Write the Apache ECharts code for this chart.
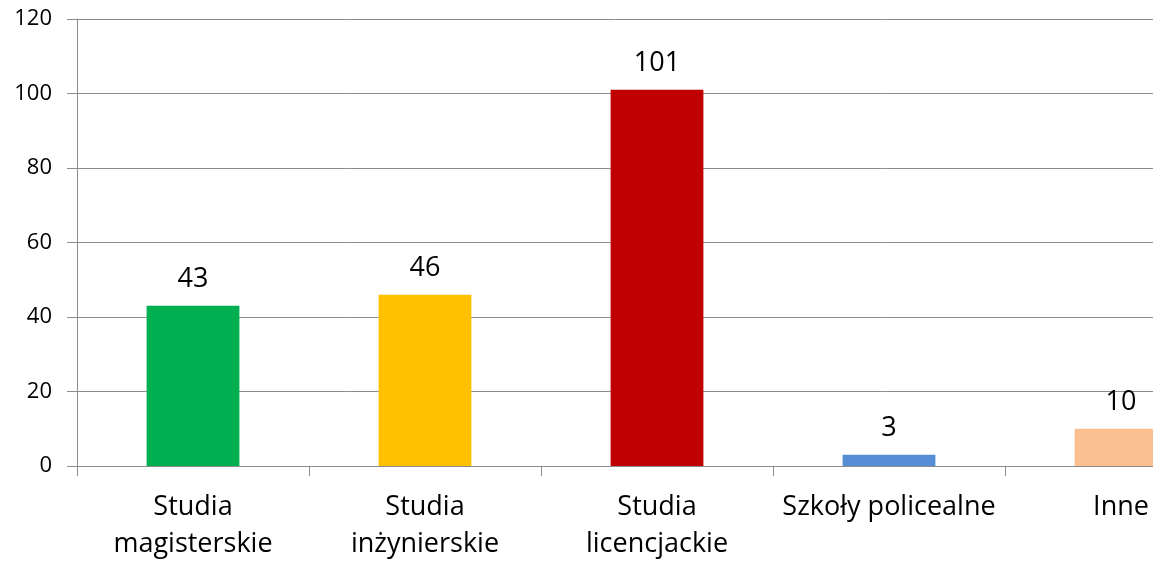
<!DOCTYPE html>
<html><head><meta charset="utf-8">
<script src="https://cdn.jsdelivr.net/npm/echarts@6/dist/echarts.min.js"></script>
<style>html,body{margin:0;padding:0;background:#fff;overflow:hidden}#c{width:1153px;height:562px}</style>
</head><body><div id="c"></div>
<script>
var categories = ["Studia\nmagisterskie", "Studia\ninżynierskie", "Studia\nlicencjackie", "Szkoły policealne", "Inne"];
var values = [43, 46, 101, 3, 10];
var colors = ["#00B050", "#FFC000", "#C00000", "#558ED5", "#FAC090"];
var yTicks = {min: 0, max: 120, interval: 20};

var chart = echarts.init(document.getElementById('c'), null, {renderer: 'canvas'});
var font = "'Open Sans', 'Liberation Sans', sans-serif";
chart.setOption({
  animation: false,
  backgroundColor: '#fff',
  grid: {left: 77, top: 19, width: 1160, height: 447, containLabel: false, outerBoundsMode: 'none'},
  xAxis: {
    type: 'category',
    data: categories,
    axisLine: {lineStyle: {color: '#8c8c8c', width: 1}},
    axisTick: {show: true, length: 10, alignWithLabel: false, lineStyle: {color: '#8c8c8c'}},
    axisLabel: {color: '#000', fontSize: 27, fontFamily: font, margin: 23, lineHeight: 37, interval: 0}
  },
  yAxis: {
    type: 'value',
    min: yTicks.min, max: yTicks.max, interval: yTicks.interval,
    axisLine: {show: true, lineStyle: {color: '#8c8c8c', width: 1}},
    axisTick: {show: true, length: 10, lineStyle: {color: '#8c8c8c'}},
    splitLine: {lineStyle: {color: '#8c8c8c', width: 1}},
    axisLabel: {color: '#000', fontSize: 22, fontFamily: font, margin: 25}
  },
  series: [{
    type: 'bar',
    data: values.map(function (v, i) { return {value: v, itemStyle: {color: colors[i]}}; }),
    barWidth: '40%',
    label: {show: true, position: 'top', distance: 13, color: '#000', fontSize: 27, fontFamily: font}
  }]
});
</script></body></html>
